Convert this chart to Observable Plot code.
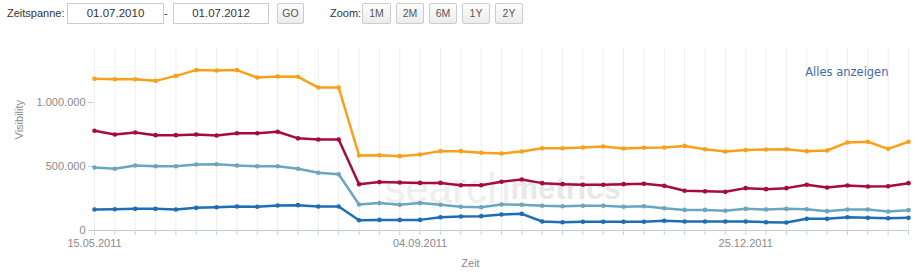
<!DOCTYPE html>
<html>
<head>
<meta charset="utf-8">
<script src="https://cdn.jsdelivr.net/npm/d3@7"></script>
<script src="https://cdn.jsdelivr.net/npm/@observablehq/plot@0.6"></script>
<style>
  html, body { margin: 0; padding: 0; background: #fff; overflow: hidden; }
  body { width: 919px; height: 275px; font-family: 'Liberation Sans', sans-serif; }
  #controls { position: relative; height: 30px; font-size: 11px; color: #333; }
  #controls .lbl { position: absolute; top: 6px; line-height: 14px; font-size: 11px; }
  #controls .inp { position: absolute; top: 3px; height: 19px; line-height: 19px; border: 1px solid #ccc; text-align: center; font-size: 11.5px; color: #333; background: #fff; }
  #controls .btn { position: absolute; top: 3px; height: 19px; line-height: 19px; border: 1px solid #ccc; border-radius: 2px; text-align: center; font-size: 10.5px; color: #555; background: linear-gradient(#fdfdfd, #ececec); }
  #chart { position: relative; }
</style>
</head>
<body>
<div id="controls">
  <span class="lbl" style="left:7px">Zeitspanne:</span>
  <div class="inp" style="left:67px;width:95px">01.07.2010</div>
  <span class="lbl" style="left:164px">-</span>
  <div class="inp" style="left:173px;width:94px">01.07.2012</div>
  <div class="btn" style="left:277px;width:25px">GO</div>
  <span class="lbl" style="left:330px">Zoom:</span>
  <div class="btn" style="left:362px;width:27px">1M</div>
  <div class="btn" style="left:396px;width:26px">2M</div>
  <div class="btn" style="left:429px;width:26px">6M</div>
  <div class="btn" style="left:462px;width:26px">1Y</div>
  <div class="btn" style="left:495px;width:26px">2Y</div>
</div>
<div id="chart"></div>
<script>
// Weekly dates (categories)
const dates = [
  "2011-05-15","2011-05-22","2011-05-29","2011-06-05","2011-06-12","2011-06-19","2011-06-26",
  "2011-07-03","2011-07-10","2011-07-17","2011-07-24","2011-07-31","2011-08-07","2011-08-14",
  "2011-08-21","2011-08-28","2011-09-04","2011-09-11","2011-09-18","2011-09-25","2011-10-02",
  "2011-10-09","2011-10-16","2011-10-23","2011-10-30","2011-11-06","2011-11-13","2011-11-20",
  "2011-11-27","2011-12-04","2011-12-11","2011-12-18","2011-12-25","2012-01-01","2012-01-08",
  "2012-01-15","2012-01-22","2012-01-29","2012-02-05","2012-02-12","2012-02-19"
];
const majorTicks = ["2011-05-15","2011-09-04","2011-12-25"];
const yTicks = [0, 500000, 1000000];

// Series values (in thousands)
const series1 = [1185,1182,1182,1169,1208,1253,1250,1253,1195,1203,1201,1117,1117,586,588,581,594,620,620,607,602,617,643,643,648,656,641,646,648,661,635,617,628,633,635,620,625,688,693,638,693];
const series2 = [779,750,766,745,745,750,742,760,760,771,720,711,711,362,378,375,372,372,354,354,381,398,370,362,357,357,362,365,349,310,306,302,331,323,331,357,336,352,344,346,370];
const series3 = [492,482,508,502,502,516,518,508,502,502,483,451,440,203,214,201,214,201,185,182,203,201,193,190,193,193,185,190,174,161,161,154,169,164,169,166,151,164,164,148,159];
const series4 = [164,166,169,169,164,177,182,188,185,195,198,188,188,80,83,83,83,104,109,112,125,130,70,65,68,68,68,68,76,70,70,70,70,65,62,91,91,104,99,96,99];

const seriesNames = ["S3", "S4", "S2", "S1"];
const seriesColors = ["#6ba6bf", "#1f6db5", "#a50c3c", "#f7a11a"];
const seriesData = [series3, series4, series2, series1];

const parse = d3.utcParse("%Y-%m-%d");
const dateObjs = dates.map(parse);
const rows = [];
seriesNames.forEach((name, s) => {
  seriesData[s].forEach((v, i) => rows.push({series: name, date: dateObjs[i], value: v * 1000}));
});

const FONT = "'Liberation Sans', sans-serif";
const fmtDate = d3.utcFormat("%d.%m.%Y");
const fmtNum = d => d3.format(",")(d).replace(/,/g, ".");

const chart = Plot.plot({
  width: 919,
  height: 245,
  marginLeft: 94,
  marginRight: 11,
  marginTop: 18,
  marginBottom: 45,
  style: {fontFamily: FONT, fontSize: "11px", color: "#8a8a8a", background: "transparent", overflow: "visible"},
  x: {type: "utc", domain: [dateObjs[0], dateObjs[dateObjs.length - 1]], label: null},
  y: {domain: [0, 1421875], label: null},
  color: {domain: seriesNames, range: seriesColors},
  marks: [
    Plot.ruleX(dateObjs, {stroke: "#eeeeee", strokeWidth: 1}),
    Plot.text(["search"], {frameAnchor: "middle", dx: 9, dy: 50, textAnchor: "end", fill: "#eeeeee", fontSize: 42, fontFamily: FONT}),
    Plot.text(["metrics"], {frameAnchor: "middle", dx: 9, dy: 50, textAnchor: "start", fill: "#e8e8e8", fontSize: 31, fontWeight: "bold", fontFamily: FONT}),
    Plot.ruleY([0], {stroke: "#c0d0e0"}),
    Plot.axisX({ticks: dateObjs, tickSize: 5, tickFormat: () => "", stroke: "#c0d0e0", label: null}),
    Plot.axisX({ticks: majorTicks.map(parse), tickSize: 0, tickPadding: 9, tickFormat: fmtDate, fill: "#8a8a8a", label: null}),
    Plot.axisY({ticks: yTicks, tickSize: 6, tickPadding: 3, tickFormat: fmtNum, stroke: "#c0d0e0", fill: "#8a8a8a", label: null}),
    Plot.text(["Visibility"], {frameAnchor: "left", dx: -75, rotate: -90, fill: "#8a8a8a", fontSize: 11}),
    Plot.text(["Zeit"], {frameAnchor: "bottom", dx: -31, dy: 33, lineAnchor: "middle", fill: "#8a8a8a", fontSize: 11}),
    Plot.line(rows, {x: "date", y: "value", z: "series", stroke: "series", strokeWidth: 2.5}),
    Plot.dot(rows, {x: "date", y: "value", fill: "series", r: 2.3}),
    Plot.text(["Alles anzeigen"], {frameAnchor: "top-right", dx: -20, dy: 24, textAnchor: "end", lineAnchor: "middle", fill: "#3e6d9e", fontSize: 11.5, fontFamily: "'DejaVu Sans', sans-serif"})
  ]
});
document.getElementById("chart").appendChild(chart);
</script>
</body>
</html>
